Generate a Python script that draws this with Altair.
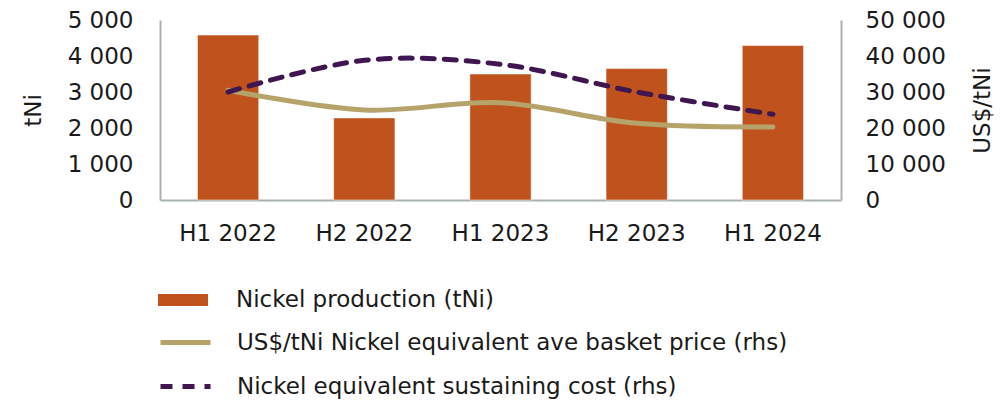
import altair as alt
import pandas as pd

periods = ["H1 2022", "H2 2022", "H1 2023", "H2 2023", "H1 2024"]
production = [4580, 2280, 3500, 3650, 4290]
basket_price = [30500, 25000, 27000, 21300, 20300]
sustaining_cost = [30000, 38800, 37700, 30000, 23800]

prod_label = "Nickel production (tNi)"
price_label = "US$/tNi Nickel equivalent ave basket price (rhs)"
cost_label = "Nickel equivalent sustaining cost (rhs)"

bar_color = "#C0531D"
price_color = "#B5A36A"
cost_color = "#3F1650"
axis_color = "#AAB1B1"
FONT = "DejaVu Sans"
FS = 23

df = pd.DataFrame({
    "period": periods,
    "production": production,
    "price": basket_price,
    "cost": sustaining_cost,
    "s_prod": [prod_label] * len(periods),
    "s_price": [price_label] * len(periods),
    "s_cost": [cost_label] * len(periods),
})

fmt = "replace(format(datum.value, ','), ',', ' ')"

x = alt.X("period:N", sort=periods, title=None,
          scale=alt.Scale(paddingInner=0.55, paddingOuter=0.275),
          axis=alt.Axis(labelAngle=0, labelPadding=22, ticks=False,
                        domainColor=axis_color, domainWidth=2))

base = alt.Chart(df)

bars = base.mark_bar(stroke="white", strokeWidth=0.5).encode(
    x=x,
    y=alt.Y("production:Q", title="tNi",
            scale=alt.Scale(domain=[0, 5000], nice=False),
            axis=alt.Axis(values=[0, 1000, 2000, 3000, 4000, 5000], labelExpr=fmt,
                          ticks=False, grid=False, domainColor=axis_color, domainWidth=2,
                          labelPadding=27, titlePadding=22)),
    fill=alt.Fill("s_prod:N", scale=alt.Scale(domain=[prod_label], range=[bar_color]),
                  legend=alt.Legend(orient="none", legendX=-2, legendY=255, title=None,
                                    symbolType="M-1,-0.24H1V0.24H-1Z", symbolSize=2500,
                                    symbolStrokeWidth=0, labelOffset=28, padding=0)),
)

right_axis = alt.Axis(orient="right", values=[0, 10000, 20000, 30000, 40000, 50000],
                      labelExpr=fmt, ticks=False, grid=False, domainColor=axis_color,
                      domainWidth=2, labelPadding=24, titlePadding=26, titleAngle=270,
                      titleBaseline="top")

price_line = base.mark_line(strokeWidth=5, interpolate="cardinal", strokeCap="round").encode(
    x=x,
    y=alt.Y("price:Q", title="US$/tNi", scale=alt.Scale(domain=[0, 50000], nice=False),
            axis=right_axis),
    stroke=alt.Stroke("s_price:N", scale=alt.Scale(domain=[price_label], range=[price_color]),
                      legend=alt.Legend(orient="none", legendX=-2, legendY=295, title=None,
                                        symbolType="stroke", symbolSize=2500,
                                        symbolStrokeWidth=5, labelOffset=24, padding=0)),
)

cost_line = base.mark_line(strokeWidth=5, interpolate="cardinal", strokeCap="round",
                           color=cost_color).encode(
    x=x,
    y=alt.Y("cost:Q", title="US$/tNi", scale=alt.Scale(domain=[0, 50000], nice=False),
            axis=right_axis),
    strokeDash=alt.StrokeDash("s_cost:N", scale=alt.Scale(domain=[cost_label], range=[[12, 10]]),
                              legend=alt.Legend(orient="none", legendX=-2, legendY=339, title=None,
                                                symbolType="stroke", symbolSize=2500,
                                                symbolStrokeColor=cost_color,
                                                symbolStrokeWidth=5, labelOffset=24, padding=0)),
)

lines = alt.layer(price_line, cost_line)

chart = alt.layer(bars, lines).resolve_scale(y="independent").properties(
    width=681, height=180,
    autosize=alt.AutoSizeParams(type="none"),
    padding={"left": 152, "top": 12, "right": 155, "bottom": 200},
).configure_view(stroke=None).configure_axis(
    labelFont=FONT, labelFontSize=FS, labelColor="#1a1a1a",
    titleFont=FONT, titleFontSize=FS, titleFontWeight="normal", titleColor="#1a1a1a",
).configure_legend(
    labelFont=FONT, labelFontSize=FS, labelColor="#1a1a1a", labelLimit=800,
)

chart.save("out.html", embed_options={"renderer": "svg", "actions": False})
